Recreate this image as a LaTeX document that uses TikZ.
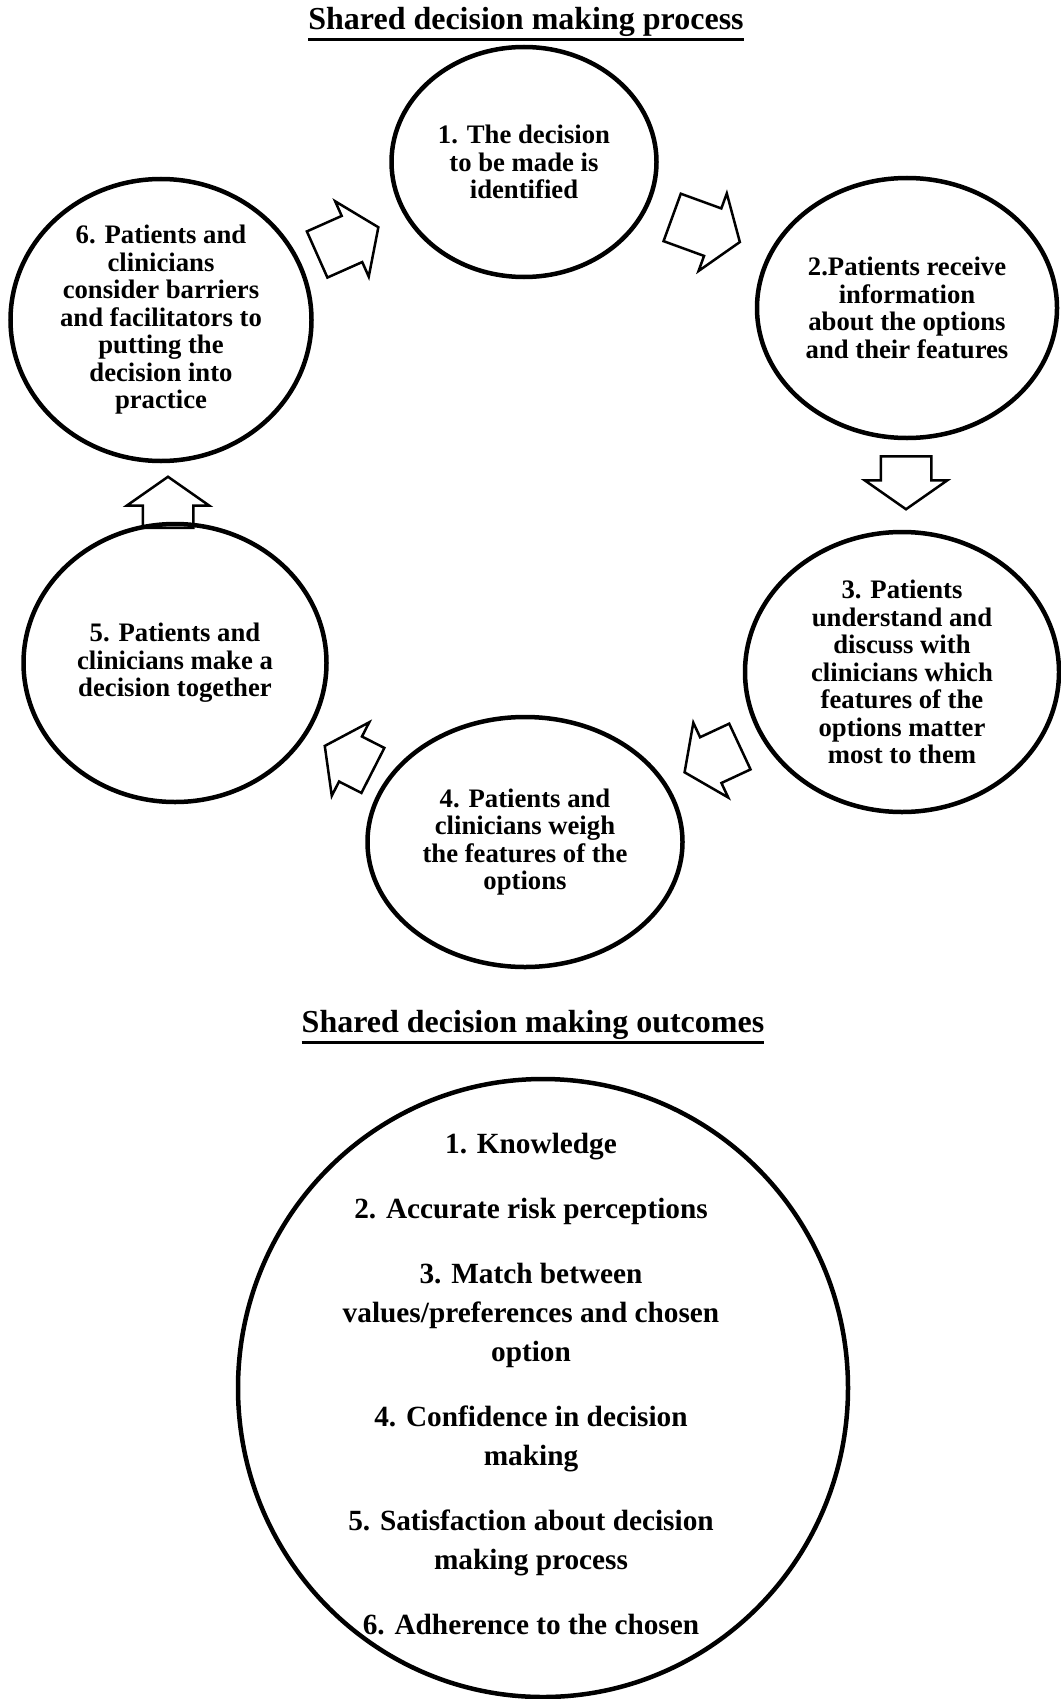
\documentclass[tikz,border=0pt]{standalone}
\usepackage{fontspec}
\setmainfont{Liberation Serif}
\usetikzlibrary{shapes.geometric, shapes.arrows}

\begin{document}
\begin{tikzpicture}[x=1pt, y=-1pt,
  stage/.style={ellipse, draw, line width=4.5pt, inner sep=0pt, align=center,
    font=\bfseries\fontsize{26.7}{27.5}\selectfont},
  blockarrow/.style={single arrow, draw, line width=2.5pt, inner xsep=0pt,
    inner ysep=24pt, single arrow head extend=16pt,
    single arrow tip angle=110, minimum height=#1, anchor=tail},
  heading/.style={font=\bfseries\fontsize{32}{38}\selectfont, inner sep=0pt, anchor=base},
  underline/.style={line width=3pt},
  outlist/.style={align=center, inner sep=0pt, anchor=north,
    font=\bfseries\fontsize{29.3}{39}\selectfont}]

\useasboundingbox (0,0) rectangle (1060,1699);

% process
\node[heading] (title1) at (526,30) {Shared decision making process};
\draw[underline] ([yshift=-10pt]title1.base west) -- ([yshift=-10pt]title1.base east);

\node[stage, minimum width=265pt, minimum height=230pt] (s1) at (524,162)
  {1. The decision\\to be made is\\identified};
\node[stage, minimum width=300pt, minimum height=260pt] (s2) at (907,308)
  {2.Patients receive\\information\\about the options\\and their features};
\node[stage, minimum width=314pt, minimum height=280pt] (s3) at (902,672)
  {3. Patients\\understand and\\discuss with\\clinicians which\\features of the\\options matter\\most to them};
\node[stage, minimum width=315pt, minimum height=250pt] (s4) at (525,842)
  {4. Patients and\\clinicians weigh\\the features of  the\\options};
\node[stage, minimum width=303pt, minimum height=278pt] (s5) at (175,663)
  {5. Patients and\\clinicians make a\\decision together};
\node[stage, minimum width=301pt, minimum height=282pt] (s6) at (161,320)
  {6. Patients and\\clinicians\\consider barriers\\and facilitators to\\putting the\\decision into\\practice};

% block arrows between the stages
\node[blockarrow=67pt, rotate=24] (a61) at (316,255) {};
\node[blockarrow=72pt, rotate=-20] (a12) at (671,217) {};
\node[blockarrow=53pt, rotate=-90] (a23) at (906,455) {};
\node[blockarrow=61pt, rotate=205] (a34) at (741,746) {};
\node[blockarrow=54pt, rotate=153] (a45) at (374,771) {};
\node[blockarrow=51pt, rotate=90] (a56) at (168,529) {};

% outcomes
\node[heading] (title2) at (533,1032) {Shared decision making outcomes};
\draw[underline] ([yshift=-10pt]title2.base west) -- ([yshift=-10pt]title2.base east);

\node[ellipse, draw, line width=4.5pt, minimum width=610pt, minimum height=618pt] (outcome) at (543,1388) {};
\node[outlist] (items) at (531,1133)
  {1. Knowledge\\[26pt]
   2. Accurate risk perceptions\\[26pt]
   3. Match between\\values/preferences and chosen\\option\\[26pt]
   4. Confidence in decision\\making\\[26pt]
   5. Satisfaction about decision\\making process\\[26pt]
   6. Adherence to the chosen};

\end{tikzpicture}
\end{document}
